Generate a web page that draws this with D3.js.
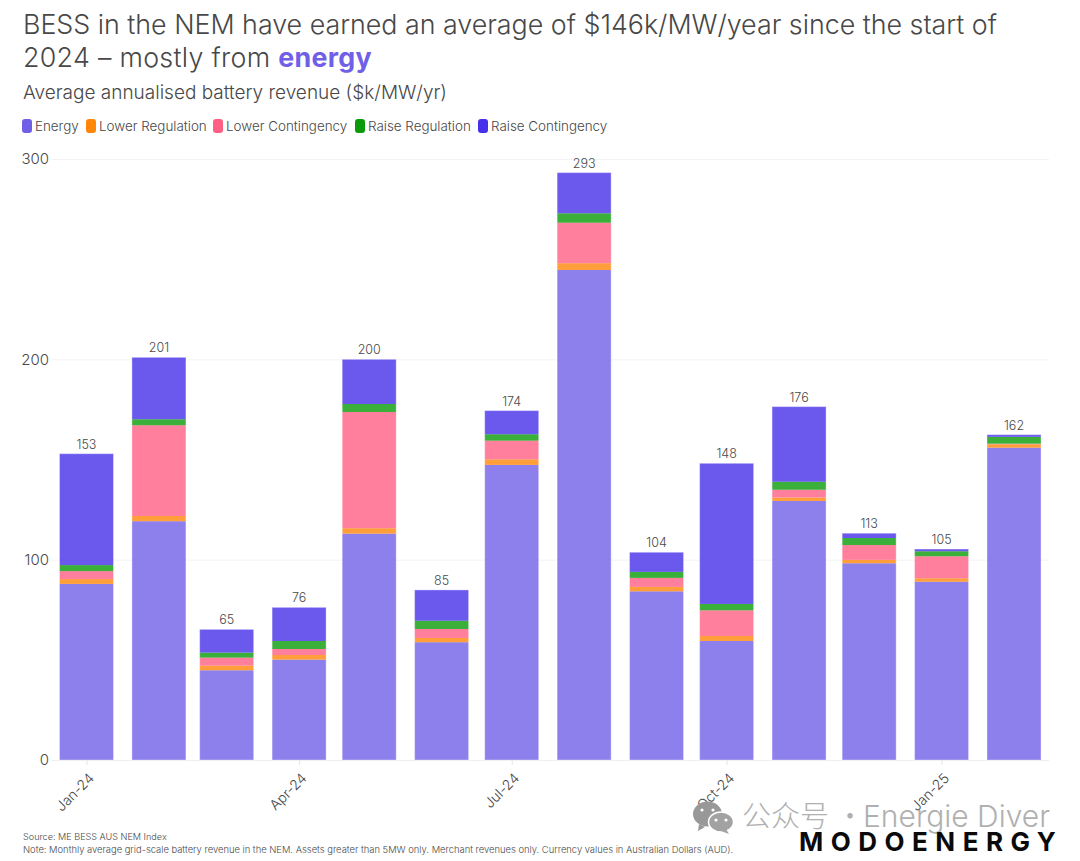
<!DOCTYPE html>
<html><head><meta charset="utf-8">
<script src="https://cdn.jsdelivr.net/npm/d3@7"></script>
<style>
html,body{margin:0;padding:0;background:#fff}
svg{display:block}
text{font-family:Inter,"Noto Sans",sans-serif}
</style></head><body>
<svg id="c" width="1080" height="861"></svg>
<script>
const months=["2024-01-01","2024-02-01","2024-03-01","2024-04-01","2024-05-01","2024-06-01","2024-07-01","2024-08-01","2024-09-01","2024-10-01","2024-11-01","2024-12-01","2025-01-01","2025-02-01"];
const energy=[87.9,119.2,44.8,50.1,113,58.8,147.3,244.6,84.2,59.4,129.3,98.2,89,155.9];
const lowerReg=[2.4,2.6,2.3,2.3,2.7,2.1,2.8,3.4,2.2,2.5,1.7,1.7,1.7,1.7];
const lowerCont=[4,45.3,4,3,58,4.5,9.3,20.2,4.5,12.8,3.9,7.4,11,0.3];
const raiseReg=[3,3,2.5,4,4,4.1,3.2,4.7,3,3.2,4,3.5,2.5,3.4];
const raiseCont=[55.6,30.9,11.6,16.8,22.3,15.4,11.8,20.3,9.8,70.2,37.5,2.4,1.1,1.1];
const totals=[153,201,65,76,200,85,174,293,104,148,176,113,105,162];
const seriesNames=["Energy","Lower Regulation","Lower Contingency","Raise Regulation","Raise Contingency"];
const seriesColors=["#7060e8","#ff8609","#ff5f83","#099b09","#4630ea"];
const seriesValues=[energy,lowerReg,lowerCont,raiseReg,raiseCont];
const yTicks=[0,100,200,300];
const xTickDates=["2024-01-01","2024-04-01","2024-07-01","2024-10-01","2025-01-01"];
const xTickLabels=["Jan-24","Apr-24","Jul-24","Oct-24","Jan-25"];

const svg=d3.select("#c");
const ink="#484848";
const x=d3.scaleUtc().domain([new Date("2024-01-01"),new Date("2025-02-01")]).range([86.5,1014]);
const y=d3.scaleLinear().domain([0,300]).range([760,159]);
const barW=54;

// title block
svg.append("text").attr("x",23).attr("y",34).attr("font-size",26.8).attr("fill",ink).attr("font-weight",300)
 .text("BESS in the NEM have earned an average of $146k/MW/year since the start of");
const t2=svg.append("text").attr("x",23).attr("y",67).attr("font-size",26.8).attr("letter-spacing",0.3).attr("fill",ink).attr("font-weight",300);
t2.append("tspan").text("2024 – mostly from ");
t2.append("tspan").attr("fill","#7060e8").attr("font-weight",700).text("energy");
svg.append("text").attr("x",23).attr("y",99).attr("font-size",19).attr("fill",ink).attr("font-weight",300)
 .text("Average annualised battery revenue ($k/MW/yr)");

// legend
const legendX=[22,86,213,355,478];
const lg=svg.append("g").selectAll("g").data(seriesNames).join("g").attr("transform",(d,i)=>`translate(${legendX[i]},119)`);
lg.append("rect").attr("width",10).attr("height",14).attr("rx",3).attr("fill",(d,i)=>seriesColors[i]);
lg.append("text").attr("x",13).attr("y",12).attr("font-size",13.4).attr("fill",ink).attr("font-weight",300).text(d=>d);

// y axis + grid
const yAxis=svg.append("g").attr("transform","translate(52,0)")
 .call(d3.axisLeft(y).tickValues(yTicks).tickSize(-997).tickPadding(3));
yAxis.select(".domain").remove();
yAxis.selectAll("line").attr("stroke","#f3f3f3");
yAxis.selectAll("text").attr("font-size",15).attr("fill",ink).attr("font-weight",300);

// x axis
const labelOf=new Map(xTickDates.map((d,i)=>[+new Date(d),xTickLabels[i]]));
const xAxis=svg.append("g").attr("transform","translate(0,760)")
 .call(d3.axisBottom(x).tickValues(xTickDates.map(d=>new Date(d))).tickSize(5).tickFormat(d=>labelOf.get(+d)));
xAxis.select(".domain").attr("d","M52,0.5H1049").attr("stroke","#eeeeee");
xAxis.selectAll("line").attr("stroke","#e4e4e4");
xAxis.selectAll("text").attr("font-size",14).attr("fill",ink).attr("font-weight",300)
 .attr("text-anchor","end").attr("dy",0).attr("y",0)
 .attr("transform","translate(8,19) rotate(-45)");

// stacked bars
const rows=months.map((m,i)=>{const o={date:new Date(m)};seriesNames.forEach((s,k)=>o[s]=seriesValues[k][i]);return o;});
const stack=d3.stack().keys(seriesNames)(rows);
svg.append("g").selectAll("g").data(stack).join("g")
 .each(function(layer,k){
  d3.select(this).selectAll("rect").data(layer).join("rect")
   .attr("x",d=>x(d.data.date)-barW/2).attr("width",barW)
   .attr("y",d=>y(d[1])).attr("height",d=>y(d[0])-y(d[1]))
   .attr("fill",seriesColors[k]).attr("fill-opacity",0.8);
 });
// outline
svg.append("g").selectAll("rect").data(rows).join("rect")
 .attr("x",d=>x(d.date)-barW/2).attr("width",barW)
 .attr("y",(d,i)=>y(d3.sum(seriesValues,s=>s[i]))).attr("height",(d,i)=>760-y(d3.sum(seriesValues,s=>s[i])))
 .attr("fill","none").attr("stroke","#ffffff").attr("stroke-opacity",0.35).attr("stroke-width",1);

// totals
svg.append("g").selectAll("text").data(rows).join("text")
 .attr("x",d=>x(d.date)).attr("y",(d,i)=>y(d3.sum(seriesValues,s=>s[i]))-5)
 .attr("text-anchor","middle").attr("font-size",12.5).attr("fill",ink).attr("font-weight",300)
 .text((d,i)=>totals[i]);

// footer
svg.append("text").attr("x",23).attr("y",840).attr("font-size",9.1).attr("fill",ink).attr("font-weight",300).text("Source: ME BESS AUS NEM Index");
svg.append("text").attr("x",23).attr("y",853).attr("font-size",9.4).attr("fill",ink).attr("font-weight",300)
 .text("Note: Monthly average grid-scale battery revenue in the NEM. Assets greater than 5MW only. Merchant revenues only. Currency values in Australian Dollars (AUD).");

// watermark
const wm=svg.append("g");
wm.append("ellipse").attr("cx",707.5).attr("cy",814).attr("rx",14.5).attr("ry",12.5).attr("fill","#989898");
wm.append("path").attr("d","M699,824l-1,7l7,-4z").attr("fill","#989898");
[[702,810],[713,810]].forEach(p=>wm.append("circle").attr("cx",p[0]).attr("cy",p[1]).attr("r",1.6).attr("fill","#fff"));
wm.append("ellipse").attr("cx",721).attr("cy",822).attr("rx",12.5).attr("ry",10).attr("fill","#a2a2a2").attr("stroke","#fff").attr("stroke-width",1.5);
wm.append("path").attr("d","M726,829l3,5l-8,-3z").attr("fill","#a2a2a2");
[[716,820],[726,820]].forEach(p=>wm.append("circle").attr("cx",p[0]).attr("cy",p[1]).attr("r",1.6).attr("fill","#fff"));
svg.append("text").attr("x",742).attr("y",827).attr("font-size",29).attr("fill","#b0b0b0")
 .attr("font-weight",300).style("font-family","'Noto Sans CJK SC',Inter,sans-serif").text("公众号 ·");
svg.append("text").attr("x",863).attr("y",827).attr("font-size",30).attr("fill","#b0b0b0")
 .attr("font-weight",300).text("Energie Diver");

// logo
svg.append("text").attr("x",799).attr("y",851).attr("font-size",26).attr("font-weight",700).attr("fill","#0a0a0a").attr("letter-spacing",7.5).text("MODOENERGY");
</script>
</body></html>
